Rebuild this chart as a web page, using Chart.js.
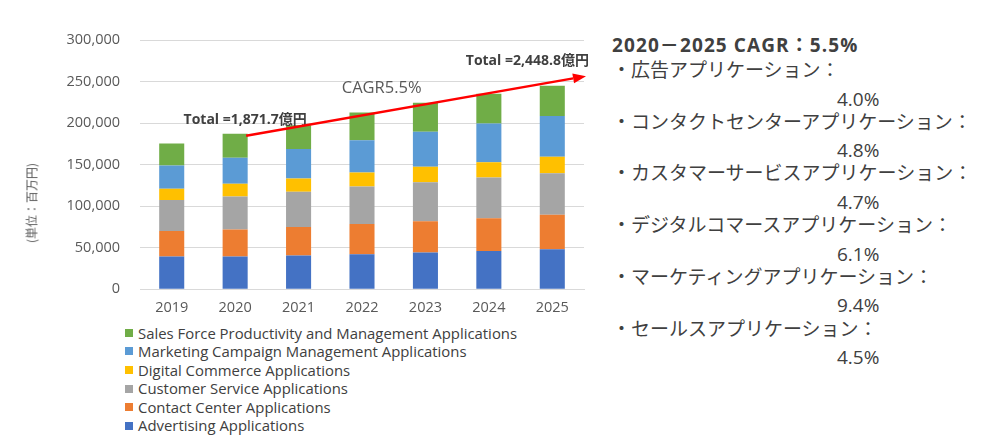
<!DOCTYPE html>
<html lang="ja">
<head>
<meta charset="utf-8">
<script src="https://cdn.jsdelivr.net/npm/chart.js@4.4.1/dist/chart.umd.min.js"></script>
<style>
  html, body { margin: 0; padding: 0; background: #fff; }
  body { width: 1000px; height: 438px; position: relative; overflow: hidden; font-family: "Open Sans", sans-serif; }
  #chartBox { position: absolute; left: 0; top: 0; width: 600px; height: 320px; }
  #yTitle {
    position: absolute; left: 31px; top: 203px; transform: translate(-50%, -50%) rotate(-90deg);
    font: 12px "Noto Sans CJK JP", sans-serif; color: #595959; white-space: nowrap;
  }
  #legend { position: absolute; left: 125px; top: 323.5px; font-size: 14.9px; color: #404040; }
  .leg-row { height: 18.6px; line-height: 18.6px; display: flex; align-items: center; white-space: nowrap; }
  .leg-box { width: 8px; height: 8px; margin-right: 5px; }
  #side { position: absolute; left: 612px; top: 0; color: #404040; font-family: "Noto Sans CJK JP", sans-serif; }
  #side .title { position: absolute; top: 33px; left: 0; font-weight: bold; font-size: 19px; letter-spacing: 1.1px; line-height: 24px; white-space: nowrap;
    font-family: "Open Sans", "Noto Sans CJK JP", sans-serif; }
  #side .item { position: absolute; left: 0; font-size: 19px; line-height: 24px; white-space: nowrap; }
  #side .pct { position: absolute; left: 225px; font-size: 19px; line-height: 24px; white-space: nowrap; font-family: "Open Sans", sans-serif; }
</style>
</head>
<body>
<div id="chartBox"><canvas id="chart"></canvas></div>
<div id="yTitle">(単位：百万円)</div>
<div id="legend"></div>
<div id="side"></div>
<script>
const years = ['2019', '2020', '2021', '2022', '2023', '2024', '2025'];

const advertising   = [39400, 39400, 40600, 42200, 44200, 46200, 48200];
const contactCenter = [30900, 32500, 34500, 36500, 37700, 39300, 41400];
const customerSvc   = [37300, 39700, 42200, 45000, 47000, 49000, 50200];
const digitalComm   = [13300, 15300, 16000, 16900, 18500, 18500, 19600];
const marketing     = [28100, 31300, 35400, 38900, 42200, 46600, 49000];
const salesForce    = [26500, 29000, 28800, 33400, 34900, 35700, 36500];

const seriesNames = [
  'Advertising Applications',
  'Contact Center Applications',
  'Customer Service Applications',
  'Digital Commerce Applications',
  'Marketing Campaign Management Applications',
  'Sales Force Productivity and Management Applications'
];
const seriesColors = ['#4472C4', '#ED7D31', '#A5A5A5', '#FFC000', '#5B9BD5', '#70AD47'];
const seriesData = [advertising, contactCenter, customerSvc, digitalComm, marketing, salesForce];

const yTicks = [0, 50000, 100000, 150000, 200000, 250000, 300000];
const totalLabels = ['Total =1,871.7億円', 'Total =2,448.8億円'];
const cagrLabel = 'CAGR5.5%';

const sideTitle = '2020－2025 CAGR：5.5%';
const sideItems = [
  '広告アプリケーション：',
  'コンタクトセンターアプリケーション：',
  'カスタマーサービスアプリケーション：',
  'デジタルコマースアプリケーション：',
  'マーケティングアプリケーション：',
  'セールスアプリケーション：'
];
const sidePcts = ['4.0%', '4.8%', '4.7%', '6.1%', '9.4%', '4.5%'];

const totals = years.map((_, i) => seriesData.reduce((s, arr) => s + arr[i], 0));

// annotation: totals, CAGR text and the red arrow
const annotate = {
  id: 'annotate',
  afterDatasetsDraw(chart) {
    const { ctx, chartArea, scales: { x, y } } = chart;
    const first = 1, last = years.length - 1;
    ctx.save();
    ctx.fillStyle = '#404040';
    ctx.font = 'bold 14px "Open Sans", "Noto Sans CJK JP", sans-serif';
    ctx.textBaseline = 'middle';
    ctx.textAlign = 'center';
    ctx.fillText(totalLabels[0], x.getPixelForValue(first) + 10, y.getPixelForValue(totals[first]) - 14);
    ctx.textAlign = 'right';
    ctx.fillText(totalLabels[1], chartArea.right + 5, y.getPixelForValue(totals[last]) - 25);

    ctx.fillStyle = '#595959';
    ctx.font = '16.5px "Open Sans", sans-serif';
    ctx.textAlign = 'center';
    const cx = (x.getPixelForValue(3) + x.getPixelForValue(4)) / 2 - 12;
    ctx.fillText(cagrLabel, cx, y.getPixelForValue(242000));

    // arrow
    const x0 = x.getPixelForValue(first) + 11, y0 = y.getPixelForValue(totals[first]) + 2;
    const x1 = chartArea.right + 2, y1 = y.getPixelForValue(256500);
    const ang = Math.atan2(y1 - y0, x1 - x0);
    const head = 13;
    ctx.strokeStyle = '#FF0000';
    ctx.fillStyle = '#FF0000';
    ctx.lineWidth = 2.5;
    ctx.beginPath();
    ctx.moveTo(x0, y0);
    ctx.lineTo(x1 - head * Math.cos(ang), y1 - head * Math.sin(ang));
    ctx.stroke();
    ctx.beginPath();
    ctx.moveTo(x1, y1);
    ctx.lineTo(x1 - head * Math.cos(ang) + 5 * Math.sin(ang), y1 - head * Math.sin(ang) - 5 * Math.cos(ang));
    ctx.lineTo(x1 - head * Math.cos(ang) - 5 * Math.sin(ang), y1 - head * Math.sin(ang) + 5 * Math.cos(ang));
    ctx.closePath();
    ctx.fill();
    ctx.restore();
  }
};

new Chart(document.getElementById('chart'), {
  type: 'bar',
  data: {
    labels: years,
    datasets: seriesData.map((d, i) => ({
      label: seriesNames[i],
      data: d,
      backgroundColor: seriesColors[i],
      borderWidth: 0,
      categoryPercentage: 1,
      barPercentage: 0.395
    }))
  },
  options: {
    responsive: true,
    maintainAspectRatio: false,
    animation: false,
    layout: { padding: { top: 40, right: 16, left: 0, bottom: 0 } },
    plugins: { legend: { display: false }, tooltip: { enabled: false } },
    scales: {
      x: {
        stacked: true,
        grid: { display: false, drawTicks: false },
        border: { color: '#d9d9d9' },
        ticks: { color: '#595959', font: { family: '"Open Sans", sans-serif', size: 14.5 }, padding: 10 },
        afterFit(s) { s.height = 30.7; }
      },
      y: {
        stacked: true,
        min: 0,
        max: 300000,
        afterBuildTicks(s) { s.ticks = yTicks.map(v => ({ value: v })); },
        grid: { color: '#d9d9d9', drawTicks: false },
        border: { display: false },
        ticks: {
          color: '#595959',
          font: { family: '"Open Sans", sans-serif', size: 14.5 },
          padding: 20,
          callback: v => v.toLocaleString('en-US')
        },
        afterFit(s) { s.width = 140; }
      }
    }
  },
  plugins: [annotate]
});

// legend, top row is the top of the stack
const legend = document.getElementById('legend');
for (let i = seriesNames.length - 1; i >= 0; i--) {
  const row = document.createElement('div');
  row.className = 'leg-row';
  row.innerHTML = `<span class="leg-box" style="background:${seriesColors[i]}"></span><span>${seriesNames[i]}</span>`;
  legend.appendChild(row);
}

const side = document.getElementById('side');
side.innerHTML = `<div class="title">${sideTitle}</div>`;
sideItems.forEach((t, i) => {
  const top = 57 + i * 51.7;
  side.innerHTML += `<div class="item" style="top:${top}px">・${t}</div>`;
  side.innerHTML += `<div class="pct" style="top:${top + 29.5}px">${sidePcts[i]}</div>`;
});
</script>
</body>
</html>
